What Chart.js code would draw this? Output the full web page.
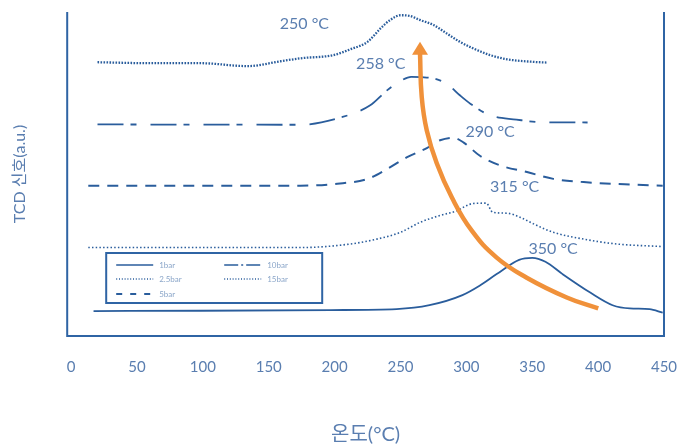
<!DOCTYPE html>
<html>
<head>
<meta charset="utf-8">
<script src="https://cdn.jsdelivr.net/npm/chart.js@4"></script>
<style>
  html, body { margin: 0; padding: 0; background: #ffffff; }
  #wrap { width: 681px; height: 447px; }
</style>
</head>
<body>
<div id="wrap"><canvas id="tcd" width="681" height="447"></canvas></div>
<script>
// TCD signal vs. temperature at five pressures
const seriesNames = ['1bar', '2.5bar', '5bar', '10bar', '15bar'];

// temperature (°C) and signal (a.u.) for each pressure
const temp1bar   = [17, 98, 197, 247, 272, 297, 310, 323, 340, 350, 360, 373, 394, 411, 424, 439, 449];
const signal1bar = [7.7, 7.8, 8.0, 8.3, 9.5, 12.6, 15.5, 19.1, 23.5, 24.1, 22.9, 19.1, 13.4, 9.5, 8.5, 8.3, 7.2];

const temp2_5bar   = [13, 174, 212, 232, 250, 265, 280, 293, 300, 305, 315, 320, 331, 341, 351, 366, 389, 414, 449];
const signal2_5bar = [27.3, 27.3, 28.4, 29.9, 32.0, 35.1, 37.2, 38.7, 40.2, 40.9, 41.0, 38.2, 37.9, 36.6, 34.6, 32.0, 29.9, 28.4, 27.6];

const temp5bar   = [13, 174, 202, 225, 240, 255, 270, 280, 290, 298, 310, 326, 346, 366, 389, 427, 449];
const signal5bar = [46.4, 46.4, 47.0, 48.5, 51.6, 55.2, 58.0, 60.4, 61.2, 59.7, 55.7, 52.6, 50.6, 48.5, 47.5, 46.7, 46.4];

const temp10bar   = [20, 174, 206, 227, 240, 250, 258, 266, 275, 285, 295, 303, 318, 338, 356, 392];
const signal10bar = [65.3, 65.2, 67.6, 71.2, 75.9, 78.7, 80.0, 79.9, 79.5, 77.9, 74.3, 71.7, 68.1, 66.8, 66.0, 65.9];

const temp15bar   = [20, 60, 98, 134, 159, 174, 199, 212, 225, 235, 242, 250, 257, 265, 275, 285, 295, 305, 318, 331, 351, 361];
const signal15bar = [84.5, 84.2, 84.2, 83.3, 84.8, 85.7, 86.7, 88.5, 90.8, 95.0, 97.5, 99.0, 98.8, 97.5, 96.0, 93.4, 90.8, 88.8, 86.7, 85.4, 84.6, 84.4];

// peak temperature of each curve (15bar → 1bar order for the labels)
const peakTemps = [250, 258, 290, 315, 350];

// x-axis tick values
const xTicks = [0, 50, 100, 150, 200, 250, 300, 350, 400, 450];

// trend arrow path (temperature, signal), tail to head
const arrowTemp   = [400.1, 376.2, 345.8, 323.0, 304.1, 288.9, 277.5, 269.9, 266.1, 264.8];
const arrowSignal = [8.5, 11.9, 18.0, 24.2, 32.5, 42.8, 53.3, 63.5, 73.8, 87.3];
const arrowTip    = { x: 264.8, y: 90.8 };

// ---- styling ----
const LINE = '#2a5d9c';
const AXIS = '#2f64a4';
const TEXT = '#5a7eb0';
const LEGEND_TEXT = '#8ba6c9';
const ORANGE = '#f0913a';
const FONT = "Lato, 'Noto Sans CJK KR', 'Noto Sans', sans-serif";

const pts = (xs, ys) => xs.map((x, i) => ({ x: x, y: ys[i] }));

const lineStyles = {
  '1bar':   { width: 1.8, dash: [] },
  '2.5bar': { width: 1.6, dash: [1.5, 2.2] },
  '5bar':   { width: 2.0, dash: [11, 8] },
  '10bar':  { width: 1.8, dash: [26, 7, 6, 14] },
  '15bar':  { width: 2.3, dash: [1.6, 1.4] }
};
const legendDash = {
  '1bar': [], '2.5bar': [1, 1.8], '5bar': [6, 8], '10bar': [14, 3, 2, 3], '15bar': [1, 1.8]
};

const seriesData = {
  '1bar': pts(temp1bar, signal1bar),
  '2.5bar': pts(temp2_5bar, signal2_5bar),
  '5bar': pts(temp5bar, signal5bar),
  '10bar': pts(temp10bar, signal10bar),
  '15bar': pts(temp15bar, signal15bar)
};

// label anchor points for the peak temperatures (same order as peakTemps)
const peakLabelAt = [
  { x: 177, y: 96.3 },
  { x: 235, y: 83.9 },
  { x: 318, y: 62.9 },
  { x: 336.6, y: 46.1 },
  { x: 365.8, y: 26.8 }
];

const datasets = [
  {
    label: 'trend',
    data: pts(arrowTemp, arrowSignal),
    borderColor: ORANGE,
    borderWidth: 4.5,
    borderCapStyle: 'butt',
    tension: 0.45,
    pointRadius: 0,
    fill: false,
    clip: false
  }
].concat(seriesNames.map(name => ({
  label: name,
  data: seriesData[name],
  borderColor: LINE,
  borderWidth: lineStyles[name].width,
  borderDash: lineStyles[name].dash,
  cubicInterpolationMode: 'monotone',
  pointRadius: 0,
  fill: false,
  clip: false
})));

// frame: left, right and bottom lines
const framePlugin = {
  id: 'frame',
  beforeDatasetsDraw(chart) {
    const { ctx, chartArea: a } = chart;
    ctx.save();
    ctx.strokeStyle = AXIS;
    ctx.lineWidth = 2;
    ctx.beginPath();
    ctx.moveTo(a.left, a.top);
    ctx.lineTo(a.left, a.bottom);
    ctx.lineTo(a.right, a.bottom);
    ctx.lineTo(a.right, a.top);
    ctx.stroke();
    ctx.restore();
  }
};

// arrow head, peak labels and the boxed legend
const overlayPlugin = {
  id: 'overlay',
  afterDatasetsDraw(chart) {
    const { ctx, chartArea: a } = chart;
    const xs = chart.scales.x, ys = chart.scales.y;

    // arrow head
    const n = arrowTemp.length - 1;
    const bx = xs.getPixelForValue(arrowTemp[n]), by = ys.getPixelForValue(arrowSignal[n]);
    const tx = xs.getPixelForValue(arrowTip.x), ty = ys.getPixelForValue(arrowTip.y);
    const ang = Math.atan2(ty - by, tx - bx);
    const len = 13, half = 8;
    const baseX = tx - Math.cos(ang) * len, baseY = ty - Math.sin(ang) * len;
    ctx.save();
    ctx.fillStyle = ORANGE;
    ctx.beginPath();
    ctx.moveTo(tx, ty);
    ctx.lineTo(baseX + Math.sin(ang) * half, baseY - Math.cos(ang) * half);
    ctx.lineTo(baseX - Math.sin(ang) * half, baseY + Math.cos(ang) * half);
    ctx.closePath();
    ctx.fill();
    ctx.restore();

    // peak temperature labels
    ctx.save();
    ctx.fillStyle = TEXT;
    ctx.font = '16px ' + FONT;
    ctx.textAlign = 'center';
    ctx.textBaseline = 'middle';
    peakTemps.forEach((t, i) => {
      ctx.fillText(t + ' °C', xs.getPixelForValue(peakLabelAt[i].x), ys.getPixelForValue(peakLabelAt[i].y));
    });
    ctx.restore();

    // legend box
    const L = a.left + 39, T = a.top + 241, W = 216, H = 50;
    ctx.save();
    ctx.strokeStyle = AXIS;
    ctx.lineWidth = 2;
    ctx.strokeRect(L, T, W, H);
    const cols = [L + 10, L + 118];
    const rows = [T + 12, T + 26, T + 41];
    const place = { '1bar': [0, 0], '2.5bar': [0, 1], '5bar': [0, 2], '10bar': [1, 0], '15bar': [1, 1] };
    ctx.font = '8px ' + FONT;
    ctx.textBaseline = 'middle';
    seriesNames.forEach(name => {
      const [c, r] = place[name];
      const x0 = cols[c], y0 = rows[r];
      ctx.strokeStyle = LINE;
      ctx.lineWidth = name === '5bar' ? 1.8 : 1.4;
      ctx.setLineDash(legendDash[name]);
      ctx.beginPath();
      ctx.moveTo(x0, y0);
      ctx.lineTo(x0 + 37, y0);
      ctx.stroke();
      ctx.setLineDash([]);
      ctx.fillStyle = LEGEND_TEXT;
      ctx.fillText(name, x0 + 43, y0);
    });
    ctx.restore();
  }
};

new Chart(document.getElementById('tcd'), {
  type: 'line',
  data: { datasets: datasets },
  options: {
    responsive: false,
    animation: false,
    layout: { padding: { left: 0, right: 17, top: 12, bottom: 0 } },
    plugins: { legend: { display: false }, tooltip: { enabled: false } },
    scales: {
      x: {
        type: 'linear',
        min: -3,
        max: 450,
        afterBuildTicks: axis => { axis.ticks = xTicks.map(v => ({ value: v })); },
        grid: { display: false, drawTicks: true, tickLength: 20 },
        border: { display: false },
        ticks: { padding: 2, color: TEXT, font: { size: 15, family: FONT }, maxRotation: 0, autoSkip: false },
        title: { display: true, text: '온도(°C)', color: TEXT, font: { size: 20, family: FONT }, padding: { top: 45, bottom: 0 } }
      },
      y: {
        min: 0,
        max: 100,
        ticks: { display: false },
        grid: { display: false, drawTicks: false },
        border: { display: false },
        title: { display: true, text: 'TCD 신호(a.u.)', color: TEXT, font: { size: 16, family: FONT }, padding: { top: 10, bottom: 38 } }
      }
    }
  },
  plugins: [framePlugin, overlayPlugin]
});
</script>
</body>
</html>
